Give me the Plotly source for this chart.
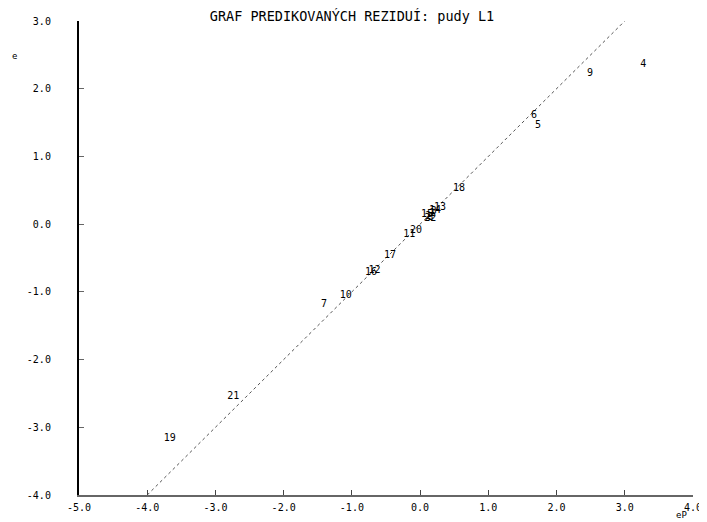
import plotly.graph_objects as go

labels = ["4", "9", "6", "5", "18", "13", "1", "2", "3", "8", "14", "15", "22",
          "20", "11", "17", "12", "16", "10", "7", "21", "19"]
ep = [3.27, 2.49, 1.67, 1.73, 0.57, 0.29, 0.18, 0.12, 0.20, 0.15, 0.22, 0.10, 0.15,
      -0.06, -0.16, -0.44, -0.67, -0.72, -1.09, -1.41, -2.74, -3.67]
e = [2.36, 2.23, 1.60, 1.46, 0.52, 0.24, 0.16, 0.12, 0.18, 0.10, 0.20, 0.14, 0.08,
     -0.10, -0.16, -0.46, -0.68, -0.72, -1.06, -1.18, -2.55, -3.16]
line_x = [-4.0, 3.0]
line_y = [-4.0, 3.0]
xticks = [-5.0, -4.0, -3.0, -2.0, -1.0, 0.0, 1.0, 2.0, 3.0, 4.0]
yticks = [-4.0, -3.0, -2.0, -1.0, 0.0, 1.0, 2.0, 3.0]

FONT = "DejaVu Sans Mono"
W, H = 699, 514
L, R, T, B = 71, 14, 13, 27
PAD = "\u00a0" * 4  # gap between y tick labels and the axis

fig = go.Figure()
fig.add_trace(go.Scatter(x=line_x, y=line_y, mode="lines",
                         line=dict(color="#555555", width=1, dash="dot"),
                         hoverinfo="skip", showlegend=False))
fig.add_trace(go.Scatter(x=ep, y=e, mode="text", text=labels,
                         textposition="middle center",
                         textfont=dict(family=FONT, size=10, color="black"),
                         showlegend=False))

fig.update_layout(
    width=W, height=H,
    margin=dict(l=L, r=R, t=T, b=B),
    paper_bgcolor="white", plot_bgcolor="white",
    title=dict(text="GRAF PREDIKOVANÝCH REZIDUÍ: pudy L1", x=344 / W, xref="container",
               xanchor="center", y=1 - 8 / H, yref="container", yanchor="middle",
               automargin=False,
               font=dict(family=FONT, size=13.5, color="black")),
    font=dict(family=FONT, size=10, color="black"),
    xaxis=dict(range=[-5, 4], tickvals=xticks, automargin=False,
               ticktext=[f"{v:.1f}" for v in xticks],
               showgrid=False, zeroline=False, showline=True,
               linecolor="#666666", linewidth=2, ticks="inside", ticklen=5,
               tickcolor="#444444", ticklabelstandoff=2,
               tickfont=dict(family=FONT, size=10)),
    yaxis=dict(range=[-4, 3], tickvals=yticks, automargin=False,
               ticktext=[f"{v:.1f}{PAD}" for v in yticks],
               showgrid=False, zeroline=False, showline=True,
               linecolor="black", linewidth=2, ticks="inside", ticklen=5,
               tickcolor="#666666",
               tickfont=dict(family=FONT, size=10)),
    annotations=[
        dict(text="e", x=6, y=48, xref="paper", yref="paper", showarrow=False,
             font=dict(family=FONT, size=9, color="black")),
        dict(text="eP", x=673, y=507, xref="paper", yref="paper", showarrow=False,
             font=dict(family=FONT, size=9, color="black")),
    ],
)
# convert pixel annotation positions (figure pixels) to paper coords
pw, ph = W - L - R, H - T - B
for a in fig.layout.annotations:
    a.x = (a.x - L) / pw
    a.y = (H - B - a.y) / ph
    a.xanchor = "center"
    a.yanchor = "middle"

fig.write_html("out.html")
